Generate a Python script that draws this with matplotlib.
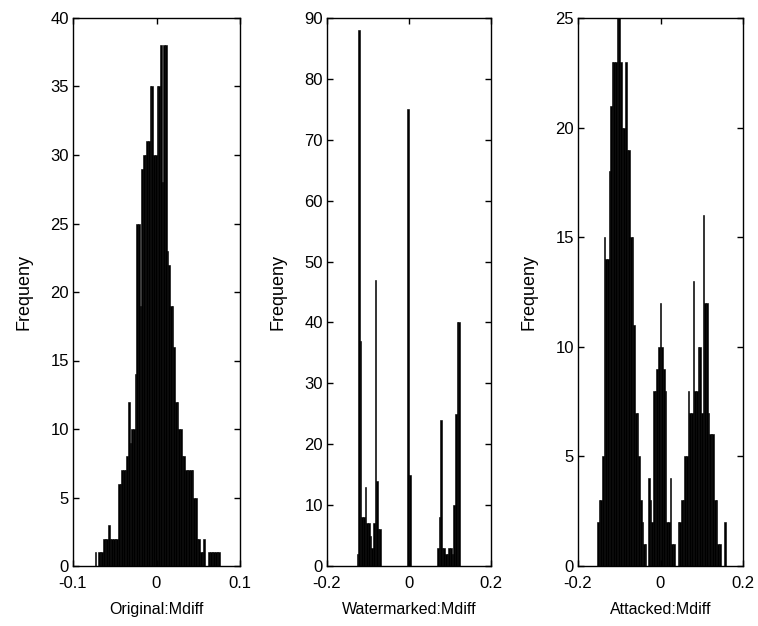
import matplotlib
matplotlib.use("Agg")
import matplotlib.pyplot as plt
import numpy as np

plt.rcParams['font.family'] = ['Liberation Sans', 'DejaVu Sans']
plt.rcParams['font.size'] = 12

# --- data: histogram counts per bin ---
# panel 1: Original:Mdiff, bins of 0.002 starting at -0.074
orig_start, orig_width = -0.074, 0.002
orig_counts = [1, 0, 1, 1, 1, 2, 2, 2, 3, 2, 2, 2, 2, 2, 6, 6, 7, 7, 7, 8,
               12, 9, 10, 10, 14, 25, 25, 19, 29, 30, 30, 31, 31, 35, 35, 30, 30, 35, 35, 38,
               28, 38, 38, 23, 22, 19, 19, 16, 12, 12, 10, 10, 8, 8, 7, 7, 7, 7, 7, 5,
               5, 2, 2, 1, 1, 2, 0, 0, 1, 1, 1, 1, 1, 1, 1]

# panel 2: Watermarked:Mdiff, bins of 0.004 starting at -0.128
wm_start, wm_width = -0.128, 0.004
wm_counts = [2, 88, 37, 8, 8, 13, 7, 7, 5, 3, 7, 47, 14, 6, 6,
             0, 0, 0, 0, 0, 0, 0, 0, 0, 0, 0, 0, 0, 0, 0,
             0, 75, 15,
             0, 0, 0, 0, 0, 0, 0, 0, 0, 0, 0, 0, 0, 0, 0, 0,
             3, 8, 24, 3, 3, 2, 2, 3, 3, 2, 10, 25, 40, 40]

# panel 3: Attacked:Mdiff, bins of 0.004 starting at -0.154
att_start, att_width = -0.154, 0.004
att_counts = [2, 3, 3, 5, 15, 14, 14, 18, 21, 23, 23, 23, 25, 25, 23, 20, 20, 23, 19, 19,
              15, 15, 11, 7, 7, 5, 3, 2, 1, 1, 0, 4, 3, 2, 8, 8, 9, 10, 12, 10,
              9, 8, 2, 2, 4, 1, 1, 0, 0, 2, 2, 3, 3, 5, 5, 8, 7, 7, 13, 8,
              8, 10, 10, 7, 16, 12, 12, 7, 6, 6, 6, 3, 3, 1, 1, 0, 0, 2]

xlabels = ['Original:Mdiff', 'Watermarked:Mdiff', 'Attacked:Mdiff']
xticks = [[-0.1, 0, 0.1], [-0.2, 0, 0.2], [-0.2, 0, 0.2]]
xtick_labels = [['-0.1', '0', '0.1'], ['-0.2', '0', '0.2'], ['-0.2', '0', '0.2']]
ymax = [40, 90, 25]
ystep = [5, 10, 5]

panels = [(orig_start, orig_width, orig_counts),
          (wm_start, wm_width, wm_counts),
          (att_start, att_width, att_counts)]

fig = plt.figure(figsize=(7.58, 6.26), dpi=100)
lefts = [73 / 758, 327 / 758, 578 / 758]
widths = [167 / 758, 164 / 758, 165 / 758]

for i, (start, width, counts) in enumerate(panels):
    ax = fig.add_axes([lefts[i], 60 / 626, widths[i], 548 / 626])
    counts = np.array(counts)
    edges = start + width * np.arange(len(counts))
    ax.bar(edges, counts, width=width, align='edge', color='black',
           edgecolor='black', linewidth=0.4)
    ax.set_xlim(xticks[i][0], xticks[i][-1])
    ax.set_ylim(0, ymax[i])
    ax.set_xticks(xticks[i])
    ax.set_xticklabels(xtick_labels[i])
    ax.set_yticks(np.arange(0, ymax[i] + 1, ystep[i]))
    ax.tick_params(direction='in', top=True, right=True, length=4, width=1,
                   labelsize=12)
    ax.tick_params(axis='x', pad=7)
    ax.tick_params(axis='y', pad=3)
    for s in ax.spines.values():
        s.set_linewidth(1)
    ax.set_xlabel(xlabels[i], fontsize=11.5, labelpad=8)
    ax.set_ylabel('Frequeny', fontsize=13, labelpad=13)

fig.savefig('out.png', dpi=100, facecolor='white')
